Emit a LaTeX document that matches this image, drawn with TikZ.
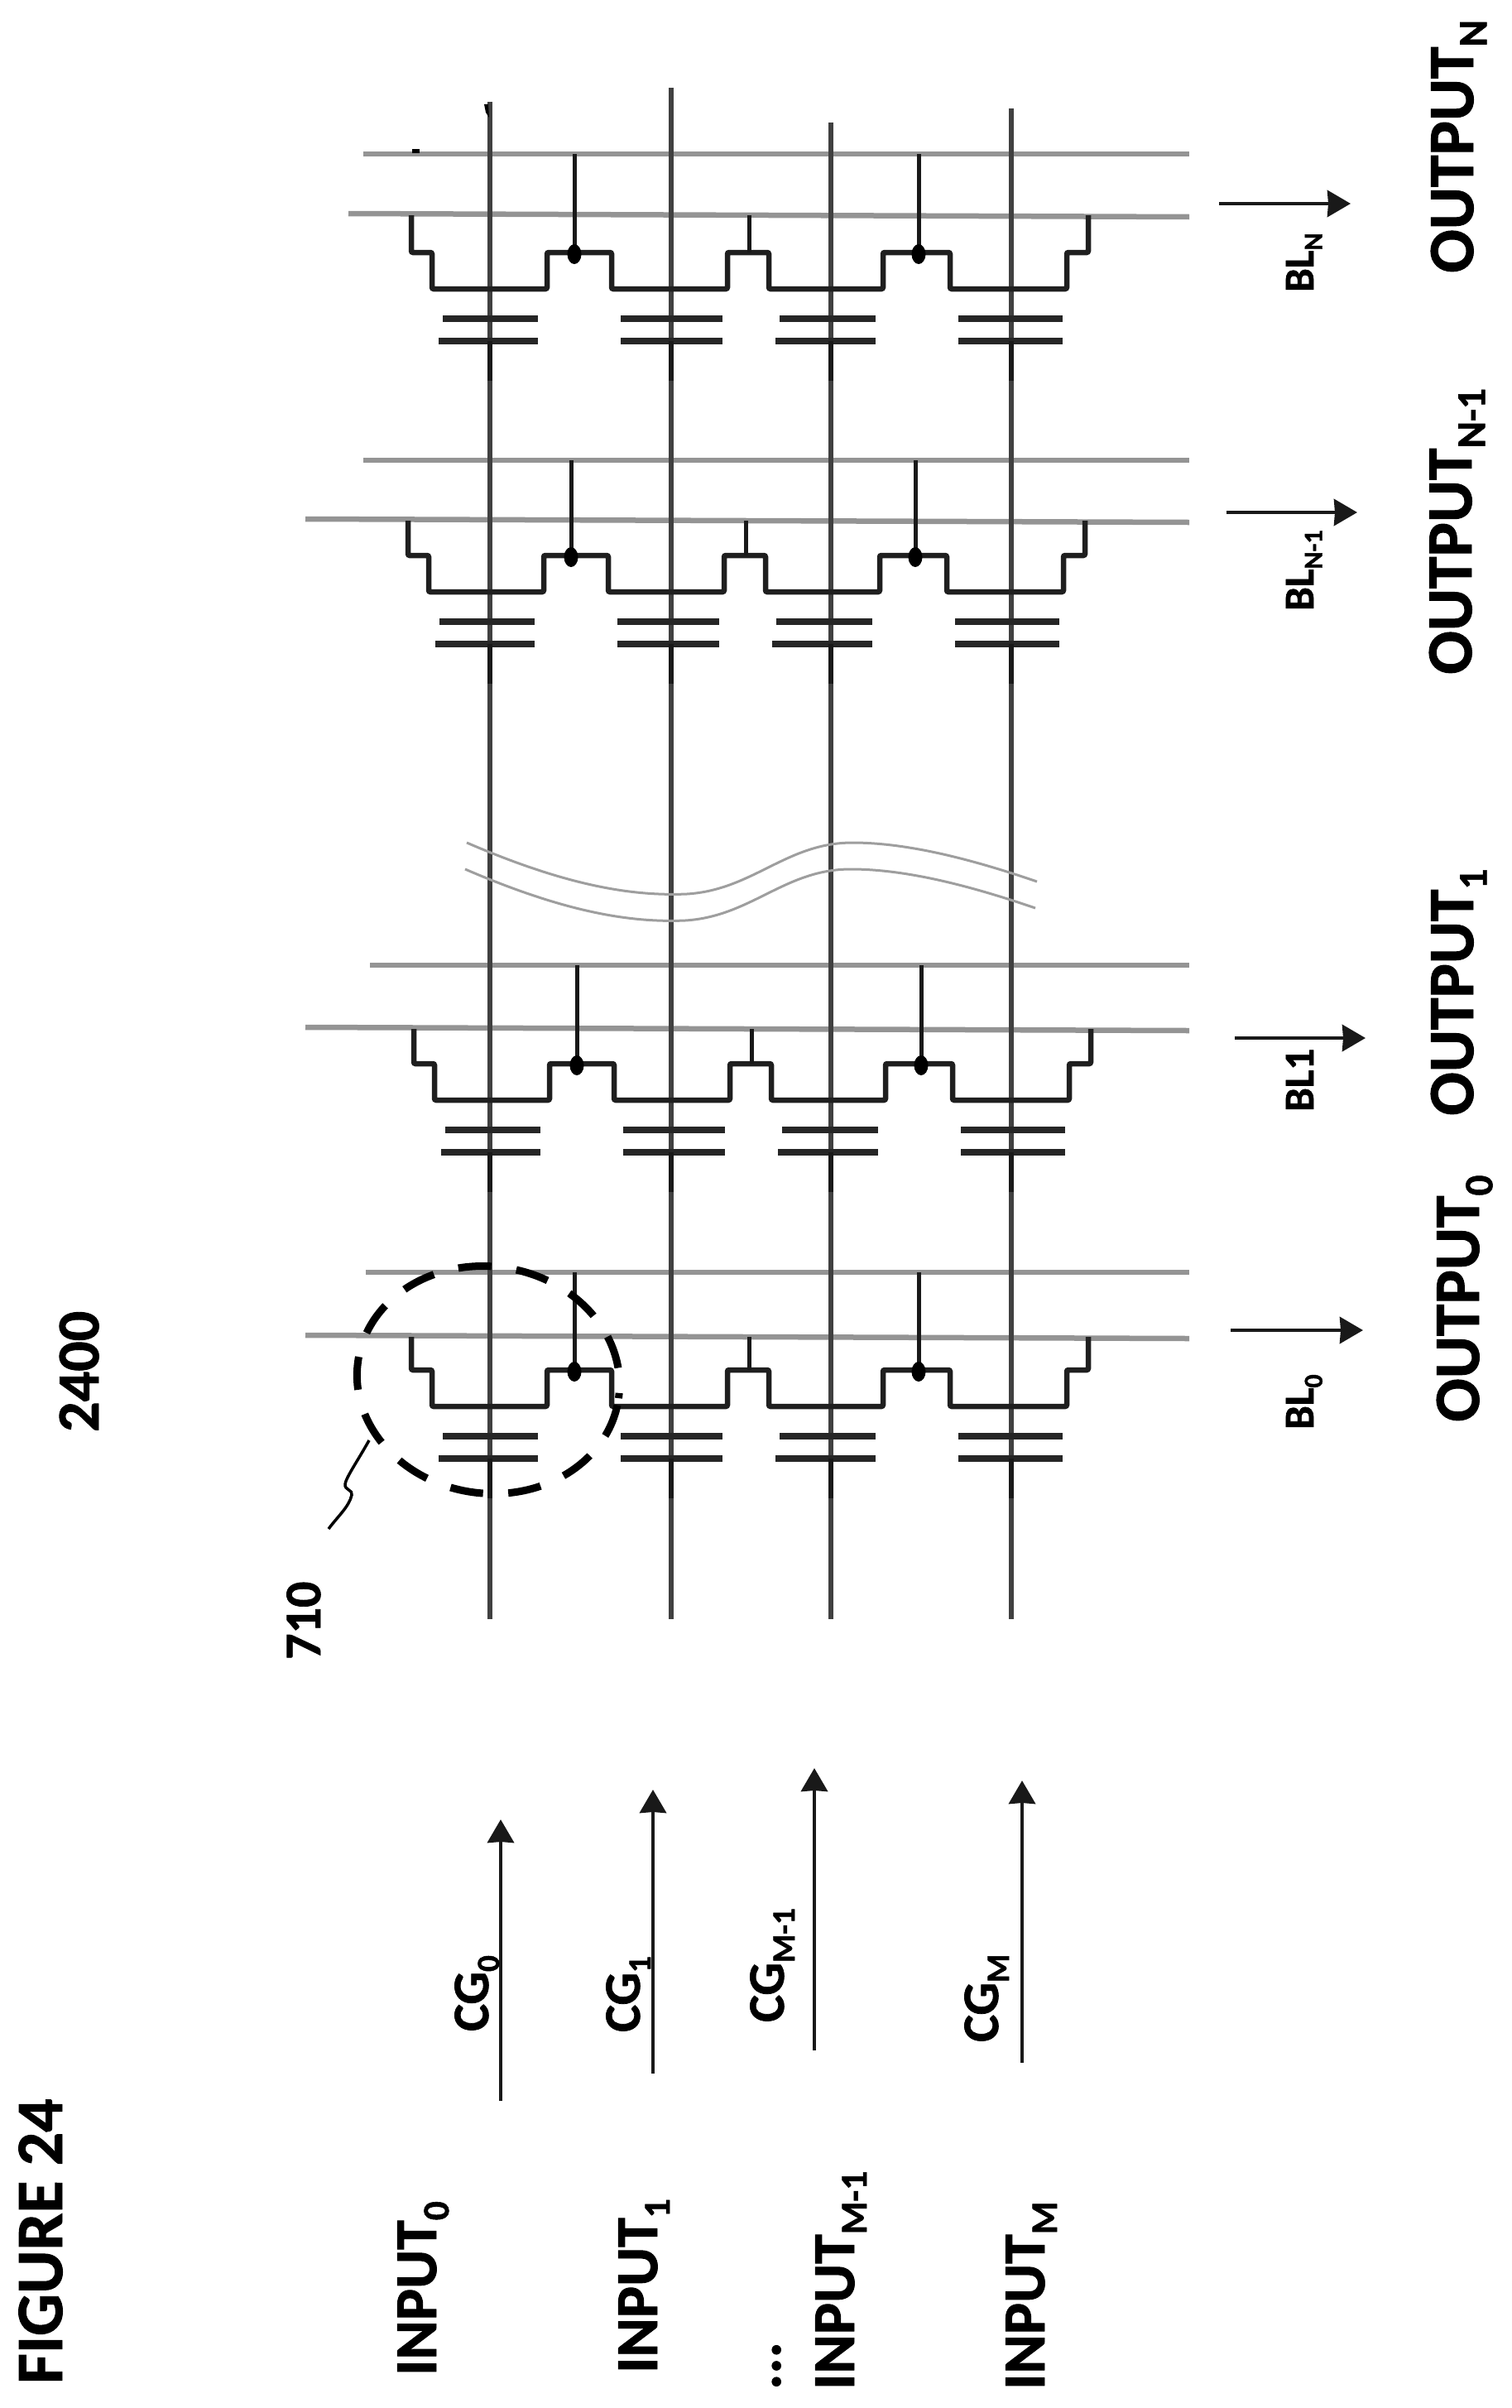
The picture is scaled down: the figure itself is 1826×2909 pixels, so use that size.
\documentclass[tikz,border=0pt]{standalone}
\usepackage{fontspec}
\setmainfont{Carlito}[BoldFeatures={FakeBold=1.2}]
\usetikzlibrary{arrows.meta}
\tikzset{>={Stealth[length=28pt,width=32pt,inset=1pt]}}
\tikzset{
  cgline/.style={line width=5.5pt,black!75},
  blline/.style={line width=6.5pt,black!42},
  stair/.style={line width=6.5pt,black!88,rounded corners=2pt},
  plate/.style={line width=7.5pt,black!85},
  tapline/.style={line width=5pt,black!90},
  stub/.style={line width=6.5pt,black!90},
  breakline/.style={line width=3pt,black!38},
  signal/.style={line width=4.5pt,black!90,->},
  lbl/.style={rotate=90,anchor=base west,inner sep=0pt,font=\bfseries}
}
\newcommand{\fsz}[1]{\fontsize{#1}{#1}\selectfont}
\newcommand{\sbs}[1]{\raisebox{-.21em}{\scalebox{.63}{#1}}}

\begin{document}
\begin{tikzpicture}[x=1pt,y=-1pt]
  \useasboundingbox (0,0) rectangle (1826,2909);

  % bit lines of each column
  \foreach \n/\up/\lo/\ul/\ll in {N/186/260/439/421,M/556/629/439/369,B/1166/1243/447/369,A/1537/1615/442/369} {
    \coordinate (up\n) at (1437,\up);
    \coordinate (lo\n) at (1437,\lo);
    \coordinate (ul\n) at (\ul,\up);
    \coordinate (ll\n) at (\ll,{\lo-2});
    \draw[blline] (ul\n) -- (up\n);
    \draw[blline] (ll\n) -- ([yshift=-2pt]lo\n);
  }

  % control gate lines
  \foreach \k/\x/\ytop in {0/592/123,1/811/106,2/1004/148,3/1222/131} {
    \coordinate (cgt\k) at (\x,\ytop);
    \coordinate (cgb\k) at (\x,1956);
    \draw[cgline] (cgt\k) -- (cgb\k);
  }
  \fill[black] (585,126) -- (590,126) -- (591,142) -- (587,136) -- cycle;
  \fill[black] (498,180) rectangle (507,185);

  % one row of cells per output
  \foreach \n/\dx/\st in {N/0/305,M/-4/671,B/3/1285,A/0/1655} {
    \begin{scope}[shift={(\dx,\st)}]
      \draw[stair] (497,0 |- lo\n) -- (497,0) -- (522,0) -- (522,44) -- (661,44) -- (661,0)
        -- (739,0) -- (739,44) -- (879,44) -- (879,0) -- (929,0) -- (929,44) -- (1067,44)
        -- (1067,0) -- (1148,0) -- (1148,44) -- (1289,44) -- (1289,0) -- (1315,0) -- (1315,0 |- lo\n);
      \draw[tapline] (694,0 |- up\n) -- (694,0);
      \draw[tapline] (1110,0 |- up\n) -- (1110,0);
      \draw[tapline] (905,0 |- lo\n) -- (905,0);
      \fill[black] (694,2) ellipse [x radius=8.5,y radius=12];
      \fill[black] (1110,2) ellipse [x radius=8.5,y radius=12];
      \foreach \pa/\pb/\pc in {535/530/650,750/750/873,942/937/1058,1158/1158/1284} {
        \draw[plate] (\pa,80) -- (\pc,80);
        \draw[plate] (\pb,107) -- (\pc,107);
      }
      \foreach \k in {0,...,3} {
        \draw[stub] (cgt\k |- 0,107) -- (cgt\k |- 0,155);
      }
    \end{scope}
  }

  % break between the columns
  \coordinate (wavea) at (564,1018);
  \coordinate (waveb) at (1253,1065);
  \coordinate (wavec) at (562,1050);
  \coordinate (waved) at (1251,1097);
  \draw[breakline] (wavea) .. controls (680,1068) and (760,1083) .. (830,1080)
    .. controls (910,1075) and (950,1018) .. (1030,1018)
    .. controls (1100,1018) and (1180,1040) .. (waveb);
  \draw[breakline] (wavec) .. controls (678,1100) and (758,1115) .. (828,1112)
    .. controls (908,1107) and (948,1050) .. (1028,1050)
    .. controls (1098,1050) and (1178,1072) .. (waved);

  % memory cell 710
  \coordinate (cell) at (590,1667);
  \draw[line width=9pt,dash pattern=on 40pt off 30.5pt,dash phase=62pt,rotate around={-8:(cell)}] (cell) ellipse [x radius=159,y radius=137];
  \node [lbl,
    font=\fsz{62}\bfseries
  ] (ref710) at (387,2005) {710};
  \coordinate (leadtop) at (446,1740);
  \coordinate (leadend) at (397,1847);
  \draw[line width=3.5pt] (leadtop) .. controls (432,1765) and (418,1785) .. (417,1793)
    .. controls (416,1800) and (427,1800) .. (425,1806)
    .. controls (422,1820) and (408,1832) .. (leadend);

  % input arrows
  \foreach \k/\x/\ya/\yb in {0/605/2538/2198,1/789/2505/2162,2/984/2477/2136,3/1235/2492/2151} {
    \coordinate (insrc\k) at (\x,\ya);
    \coordinate (indst\k) at (\x,\yb);
    \draw[signal] (insrc\k) -- (indst\k);
  }

  % output arrows
  \foreach \n/\xa/\xb/\y in {N/1473/1632/246,M/1482/1640/619,B/1492/1650/1254,A/1487/1647/1607} {
    \coordinate (outsrc\n) at (\xa,\y);
    \coordinate (outdst\n) at (\xb,\y);
    \draw[signal] (outsrc\n) -- (outdst\n);
  }

  \node [lbl,
    font=\fsz{80}\bfseries
  ] (figtitle) at (75,2880) {FIGURE 24};
  \node [lbl,
    font=\fsz{72}\bfseries
  ] (refnum) at (119,1730) {2400};

  \node [lbl,font=\fsz{72}\bfseries] (input0) at (527,2870) {INPUT\sbs{0}};
  \node [lbl,font=\fsz{72}\bfseries] (input1) at (794,2867) {INPUT\sbs{1}};
  \node [lbl,font=\fsz{72}\bfseries] (dots) at (943,2887) {...};
  \node [lbl,font=\fsz{72}\bfseries] (inputm) at (1032,2887) {INPUT\sbs{M-1}};
  \node [lbl,font=\fsz{72}\bfseries] (inputl) at (1262,2887) {INPUT\sbs{M}};

  \node [lbl,font=\fsz{62}\bfseries] (cg0) at (590,2454) {CG\sbs{0}};
  \node [lbl,font=\fsz{62}\bfseries] (cg1) at (773,2455) {CG\sbs{1}};
  \node [lbl,font=\fsz{62}\bfseries] (cgm) at (947,2443) {CG\sbs{M-1}};
  \node [lbl,font=\fsz{62}\bfseries] (cgl) at (1206,2467) {CG\sbs{M}};

  \node [lbl,font=\fsz{51}\bfseries] (bl0) at (1587,1727) {BL\sbs{0}};
  \node [lbl,font=\fsz{51}\bfseries] (bl1) at (1587,1343) {BL1};
  \node [lbl,font=\fsz{51}\bfseries] (blm) at (1587,738) {BL\sbs{N-1}};
  \node [lbl,font=\fsz{51}\bfseries] (bln) at (1587,353) {BL\sbs{N}};

  \node [lbl,font=\fsz{78}\bfseries] (out0) at (1787,1718) {OUTPUT\sbs{0}};
  \node [lbl,font=\fsz{78}\bfseries] (out1) at (1780,1348) {OUTPUT\sbs{1}};
  \node [lbl,font=\fsz{78}\bfseries] (outm) at (1778,815) {OUTPUT\sbs{N-1}};
  \node [lbl,font=\fsz{78}\bfseries] (outn) at (1780,330) {OUTPUT\sbs{N}};
\end{tikzpicture}
\end{document}
